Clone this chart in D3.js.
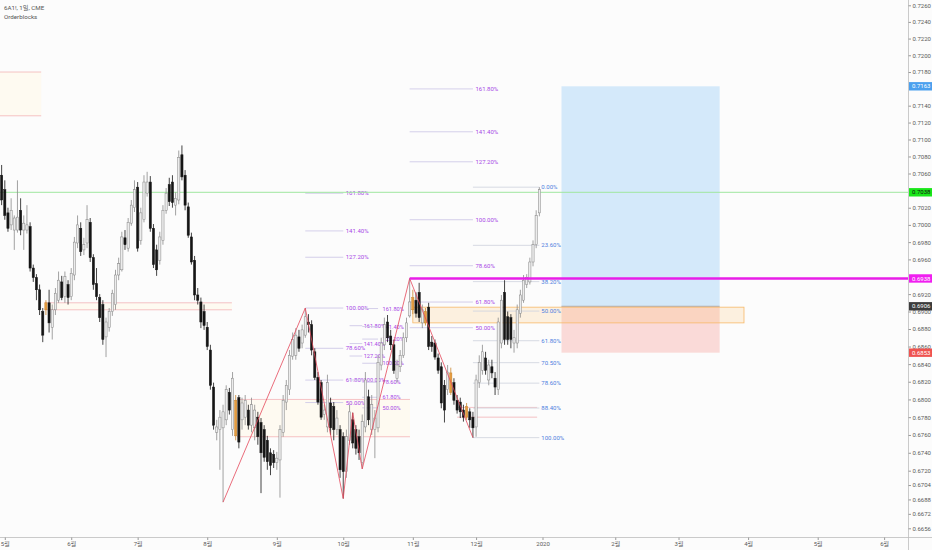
<!DOCTYPE html>
<html><head><meta charset="utf-8">
<script src="https://cdn.jsdelivr.net/npm/d3@7"></script>
<style>html,body{margin:0;padding:0;background:#fcfcfc;}svg{display:block;}</style>
</head><body>
<svg id="c" width="932" height="550"></svg>
<script>
// ---------- DATA ----------
const opens = [.7058,.7041,.7014,.7000,.6994,.6994,.7017,.6994,.6994,.6998,.6950,.6939,.6925,.6900,.6910,.6910,.6882,.6902,.6913,.6934,
.6917,.6931,.6917,.6942,.6979,.6996,.6971,.6979,.7003,.6962,.6932,.6916,.6908,.6871,.6882,.6900,.6908,.6942,.6948,.6985,
.6973,.7002,.7020,.7044,.6982,.7006,.7037,.7050,.6996,.6971,.6959,.6982,.7017,.7047,.7050,.7023,.7029,.7082,.7058,.7021,
.6986,.6959,.6919,.6911,.6900,.6882,.6856,.6814,.6763,.6766,.6768,.6777,.6808,.6766,.6799,.6802,.6777,.6780,.6788,.6771,
.6768,.6780,.6774,.6766,.6754,.6740,.6738,.6729,.6732,.6763,.6797,.6811,.6849,.6850,.6871,.6864,.6873,.6888,.6885,.6854,
.6825,.6819,.6783,.6769,.6796,.6792,.6766,.6766,.6758,.6719,.6754,.6777,.6766,.6758,.6729,.6769,.6803,.6766,.6766,.6768,
.6839,.6862,.6888,.6872,.6862,.6824,.6837,.6850,.6870,.6895,.6902,.6913,.6922,.6887,.6900,.6905,.6865,.6864,.6847,.6837,
.6816,.6811,.6830,.6819,.6799,.6797,.6788,.6792,.6786,.6780,.6769,.6819,.6833,.6847,.6822,.6837,.6824,.6811,.6864,.6922,
.6894,.6893,.6864,.6864,.6898,.6913,.6931,.6934,.6957,.6977,.7014];
const highs = [.7070,.7052,.7020,.7031,.7011,.7052,.7031,.7011,.7023,.7003,.6954,.6943,.6931,.6904,.6913,.6925,.6908,.6927,.6946,.6941,
.6946,.6936,.6950,.6986,.7011,.7003,.6985,.7023,.7008,.6966,.6950,.6920,.6913,.6893,.6904,.6925,.6948,.6962,.6992,.6994,
.7008,.7029,.7052,.7050,.7020,.7058,.7062,.7057,.7001,.6977,.6992,.7023,.7043,.7055,.7058,.7038,.7087,.7093,.7064,.7026,
.6991,.6964,.6927,.6916,.6908,.6888,.6862,.6819,.6777,.6788,.6794,.6816,.6813,.6831,.6805,.6805,.6802,.6805,.6794,.6802,
.6794,.6786,.6779,.6771,.6759,.6745,.6743,.6741,.6771,.6805,.6822,.6856,.6876,.6881,.6879,.6885,.6904,.6897,.6890,.6858,
.6831,.6822,.6794,.6828,.6802,.6797,.6788,.6771,.6763,.6766,.6794,.6785,.6771,.6766,.6783,.6831,.6811,.6805,.6788,.6850,
.6870,.6893,.6896,.6879,.6868,.6845,.6856,.6876,.6893,.6938,.6925,.6922,.6933,.6908,.6904,.6910,.6872,.6868,.6852,.6842,
.6822,.6839,.6836,.6824,.6805,.6802,.6794,.6796,.6790,.6786,.6828,.6850,.6862,.6854,.6845,.6845,.6831,.6893,.6919,.6936,
.6900,.6897,.6879,.6908,.6925,.6942,.6943,.6962,.6982,.7017,.7044];
const lows = [.7023,.7006,.6992,.6994,.6971,.6991,.6988,.6971,.6990,.6946,.6934,.6913,.6896,.6865,.6896,.6876,.6868,.6896,.6910,.6913,
.6910,.6908,.6913,.6936,.6973,.6964,.6965,.6973,.6957,.6925,.6913,.6888,.6862,.6848,.6877,.6895,.6902,.6936,.6946,.6971,
.6969,.6999,.7015,.6969,.6977,.7003,.7033,.6992,.6950,.6941,.6954,.6977,.7013,.7022,.7020,.7011,.7024,.7052,.7017,.6985,
.6954,.6913,.6908,.6881,.6879,.6856,.6811,.6766,.6754,.6721,.6685,.6771,.6783,.6759,.6754,.6745,.6766,.6771,.6766,.6763,
.6754,.6749,.6695,.6730,.6721,.6715,.6723,.6721,.6690,.6758,.6788,.6805,.6845,.6845,.6854,.6858,.6870,.6876,.6850,.6822,
.6794,.6777,.6777,.6763,.6760,.6754,.6760,.6712,.6689,.6712,.6749,.6745,.6738,.6732,.6722,.6763,.6771,.6760,.6734,.6763,
.6833,.6856,.6865,.6856,.6829,.6819,.6831,.6847,.6865,.6893,.6897,.6893,.6888,.6881,.6884,.6856,.6854,.6845,.6829,.6790,
.6774,.6805,.6805,.6794,.6784,.6779,.6775,.6777,.6768,.6757,.6758,.6813,.6828,.6828,.6816,.6824,.6805,.6805,.6858,.6862,
.6862,.6858,.6853,.6858,.6893,.6910,.6927,.6931,.6952,.6973,.7010];
const closes = [.7029,.7011,.6996,.7017,.7008,.7009,.6994,.7002,.7000,.6950,.6939,.6925,.6902,.6873,.6902,.6887,.6902,.6921,.6936,.6916,
.6940,.6916,.6944,.6980,.7000,.6969,.6977,.7006,.6962,.6931,.6917,.6893,.6868,.6888,.6900,.6921,.6942,.6955,.6986,.6977,
.7003,.7023,.7041,.6973,.7014,.7050,.7050,.6996,.6954,.6948,.6986,.7017,.7037,.7027,.7026,.7031,.7079,.7056,.7023,.6988,
.6957,.6919,.6913,.6888,.6884,.6860,.6816,.6771,.6769,.6780,.6786,.6811,.6788,.6824,.6759,.6752,.6796,.6799,.6771,.6794,
.6788,.6758,.6740,.6735,.6730,.6726,.6729,.6734,.6766,.6799,.6816,.6850,.6868,.6873,.6858,.6879,.6894,.6885,.6856,.6825,
.6797,.6780,.6788,.6819,.6768,.6766,.6779,.6721,.6719,.6758,.6786,.6751,.6745,.6740,.6775,.6822,.6777,.6794,.6779,.6842,
.6864,.6885,.6870,.6862,.6833,.6839,.6850,.6870,.6887,.6911,.6916,.6898,.6893,.6902,.6887,.6860,.6860,.6848,.6833,.6796,
.6788,.6831,.6808,.6799,.6788,.6786,.6780,.6780,.6777,.6768,.6822,.6842,.6854,.6833,.6839,.6830,.6814,.6888,.6913,.6868,
.6868,.6868,.6870,.6902,.6919,.6936,.6939,.6957,.6977,.7011,.7041];
const orangeBars = [14,74,130,134,142,147];

const monthLabels = ["5월","6월","7월","8월","9월","10월","11월","12월","2020","2월","3월","4월","5월","6월"];
const monthBars   = [1,22,43,65,87,108,130,150,171,194,214,236,258,279];

const priceTicks = [0.7260,0.7240,0.7220,0.7200,0.7180,0.7140,0.7120,0.7100,0.7080,0.7060,0.7020,0.7000,0.6980,0.6960,
  0.6920,0.6900,0.6880,0.6860,0.6840,0.6820,0.6800,0.6780,0.6760,0.6740,0.6720,0.6704,0.6688,0.6672,0.6656];

// zigzag pivots
const zigBars   = [70, 96, 108, 111, 114, 129, 149];
const zigPrices = [0.6685, 0.6904, 0.6689, 0.6785, 0.6722, 0.6938, 0.6757];

// fib groups
const fibStart  = [96, 110, 114, 129, 149];
const fibEnd    = [108, 114, 119, 149, 170];
const fibP0     = [0.6689, 0.6722, 0.6740, 0.6757, 0.7044];
const fibP100   = [0.6904, 0.6822, 0.6841, 0.7006, 0.6757];
const fibRatios = [
  [0.5,0.618,0.786,1,1.272,1.414,1.618],
  [1,1.272,1.414,1.618],
  [0.5,0.618,0.786,1,1.272,1.414,1.618],
  [0.5,0.618,0.786,1,1.272,1.414,1.618],
  [0,0.236,0.382,0.5,0.618,0.705,0.786,0.884,1]
];
const fibBlue = [false,false,false,false,true];
const fibLabelGap = [2.5, 1.5, 4.5, 2.5, 2];

// order blocks
const obStart = [-1, 13.5, 74.4, 130, 144];
const obEnd   = [12.5, 72.8, 129.1, 234.7, 169.3];
const obTop   = [0.7180, 0.6910, 0.6800, 0.6905, 0.6791];
const obBot   = [0.7128, 0.6902, 0.6758, 0.6887, 0.6780];
const obKind  = ["pink","pink","pink","orange","line"];

// position tool (long)
const posStart = 177, posEnd = 227;
const posEntry = 0.6906, posTarget = 0.7163, posStop = 0.6853;

// horizontal levels
const greenLevel = 0.7038;
const magentaLevel = 0.6938, magentaStart = 129;

// price-axis labels
const axisLabelPrices = [0.7163, 0.7038, 0.6938, 0.6906, 0.6853];
const axisLabelColors = ["#4ba0ee", "#19e619", "#f01ef0", "#3c3c3c", "#ef5350"];
const axisLabelText   = ["#fff", "#111", "#fff", "#fff", "#fff"];

// ---------- DRAW ----------
const svg = d3.select("#c");
const FONT = "Roboto, 'Noto Sans CJK KR', 'DejaVu Sans', sans-serif";
const axisX = 908, plotB = 537;
const x = d3.scaleLinear().domain([0,170]).range([1.637, 1.637 + 170*3.163]);
const y = d3.scaleLog().domain([0.66464, 0.72664]).range([plotB, 0]);

svg.append("rect").attr("width",932).attr("height",550).attr("fill","#fcfcfc");

const plot = svg.append("g");
plot.append("clipPath").attr("id","clp").append("rect").attr("width",axisX).attr("height",plotB);
const P = plot.append("g").attr("clip-path","url(#clp)");

// order block fills
obStart.forEach((s,i)=>{
  const x0 = x(s), x1 = x(obEnd[i]), yt = y(obTop[i]), yb = y(obBot[i]);
  const k = obKind[i];
  if (k === "orange") return;
  if (k === "pink") P.append("rect").attr("x",x0).attr("y",yt).attr("width",x1-x0).attr("height",yb-yt)
      .attr("fill", "#fff9ec").attr("opacity",0.7);
  [yt,yb].forEach(yy=>P.append("line").attr("x1",x0).attr("x2",x1).attr("y1",yy).attr("y2",yy)
      .attr("stroke","#f2a9ae").attr("stroke-width",0.7));
});

// position tool
const px0 = x(posStart), px1 = x(posEnd);
P.append("rect").attr("x",px0).attr("width",px1-px0).attr("y",y(posTarget)).attr("height",y(posEntry)-y(posTarget))
  .attr("fill","rgba(33,150,243,0.18)");
P.append("rect").attr("x",px0).attr("width",px1-px0).attr("y",y(posEntry)).attr("height",y(posStop)-y(posEntry))
  .attr("fill","rgba(244,67,54,0.18)");
P.append("line").attr("x1",px0).attr("x2",px1).attr("y1",y(posEntry)).attr("y2",y(posEntry))
  .attr("stroke","#9a9a9a").attr("stroke-width",0.8);

// orange order block
obStart.forEach((s,i)=>{
  if (obKind[i] !== "orange") return;
  const x0 = x(s), x1 = x(obEnd[i]), yt = y(obTop[i]), yb = y(obBot[i]);
  P.append("rect").attr("x",x0).attr("y",yt).attr("width",x1-x0).attr("height",yb-yt)
   .attr("fill","rgba(255,183,77,0.16)").attr("stroke","#f7b968").attr("stroke-width",0.8);
});

// fib lines + labels
fibStart.forEach((s,gi)=>{
  const x0 = x(s), x1 = x(fibEnd[gi]);
  fibRatios[gi].forEach(r=>{
    const p = fibP0[gi] + r*(fibP100[gi]-fibP0[gi]);
    const yy = y(p);
    P.append("line").attr("x1",x0).attr("x2",x1).attr("y1",yy).attr("y2",yy)
      .attr("stroke", fibBlue[gi] ? "#d2d6e0" : "#cfc9e8").attr("stroke-width",0.9);
    P.append("text").attr("x",x1+fibLabelGap[gi]).attr("y",yy).attr("dy","0.35em")
      .attr("font-family",FONT).attr("font-size", (gi===1||gi===2) ? 5.6 : 6)
      .attr("fill", fibBlue[gi] ? "#4f80e0" : "#a847e6")
      .text((r*100).toFixed(2)+"%");
  });
});

// horizontal lines
P.append("line").attr("x1",0).attr("x2",axisX).attr("y1",y(greenLevel)).attr("y2",y(greenLevel))
  .attr("stroke","#9fe69f").attr("stroke-width",1);

// candles
const idx = d3.range(opens.length);
const cg = P.append("g");
const isOr = i => orangeBars.includes(i);
cg.selectAll("line.w").data(idx).join("line")
  .attr("x1",i=>x(i)).attr("x2",i=>x(i)).attr("y1",i=>y(highs[i])).attr("y2",i=>y(lows[i]))
  .attr("stroke",i=> isOr(i) ? "#c9852f" : (closes[i]>=opens[i] ? "#8a8a8a" : "#151515")).attr("stroke-width",0.8);
cg.selectAll("rect.b").data(idx).join("rect")
  .attr("x",i=>x(i)-1.1).attr("width",2.2)
  .attr("y",i=>y(Math.max(opens[i],closes[i])))
  .attr("height",i=>Math.max(0.7, y(Math.min(opens[i],closes[i]))-y(Math.max(opens[i],closes[i]))))
  .attr("fill",i=> isOr(i) ? "#e59c3f" : (closes[i]>=opens[i] ? "#ececec" : "#151515"))
  .attr("stroke",i=> isOr(i) ? "#c9852f" : (closes[i]>=opens[i] ? "#858585" : "#151515"))
  .attr("stroke-width",0.5);

// zigzag
const zz = d3.line().x(d=>x(zigBars[d])).y(d=>y(zigPrices[d]));
P.append("path").attr("d",zz(d3.range(zigBars.length))).attr("fill","none")
  .attr("stroke","#e4475a").attr("stroke-width",0.8);

// magenta level
P.append("line").attr("x1",x(magentaStart)).attr("x2",axisX).attr("y1",y(magentaLevel)).attr("y2",y(magentaLevel))
  .attr("stroke","#e81ee8").attr("stroke-width",2.6);

// axes
svg.append("line").attr("x1",axisX+0.5).attr("x2",axisX+0.5).attr("y1",0).attr("y2",550).attr("stroke","#bdbdbd").attr("stroke-width",0.8);
svg.append("line").attr("x1",0).attr("x2",932).attr("y1",plotB+0.5).attr("y2",plotB+0.5).attr("stroke","#bdbdbd").attr("stroke-width",0.8);

const yAxis = d3.axisRight(y).tickValues(priceTicks).tickFormat(d3.format(".4f")).tickSize(2.5).tickPadding(1.5);
const ya = svg.append("g").attr("transform",`translate(${axisX+0.5},0)`).call(yAxis);
ya.select(".domain").remove();
ya.selectAll("line").attr("stroke","#999");
ya.selectAll("text").attr("font-family",FONT).attr("font-size",6).attr("fill","#5a5a5a");

const xAxis = d3.axisBottom(x).tickValues(monthBars).tickFormat((d,i)=>monthLabels[i]).tickSize(2.5).tickPadding(2);
const xa = svg.append("g").attr("transform",`translate(0,${plotB+0.5})`).call(xAxis);
xa.select(".domain").remove();
xa.selectAll("line").attr("stroke","#999");
xa.selectAll("text").attr("font-family",FONT).attr("font-size",6).attr("fill","#5a5a5a");

// price labels
axisLabelPrices.forEach((p,i)=>{
  const yy = y(p);
  svg.append("rect").attr("x",axisX+1).attr("y",yy-4.2).attr("width",932-axisX-1).attr("height",8.4).attr("fill",axisLabelColors[i]);
  svg.append("text").attr("x",axisX+4).attr("y",yy).attr("dy","0.35em").attr("font-family",FONT)
    .attr("font-size",6).attr("fill",axisLabelText[i]).text(p.toFixed(4));
});

// legend text
svg.append("text").attr("x",4).attr("y",8.3).attr("dy","0.35em").attr("font-family",FONT).attr("font-size",6.2)
  .attr("fill","#555").text("6A1!, 1일, CME");
svg.append("text").attr("x",4).attr("y",16.7).attr("dy","0.35em").attr("font-family",FONT).attr("font-size",6.2)
  .attr("fill","#555").text("Orderblocks");
</script>
</body></html>
